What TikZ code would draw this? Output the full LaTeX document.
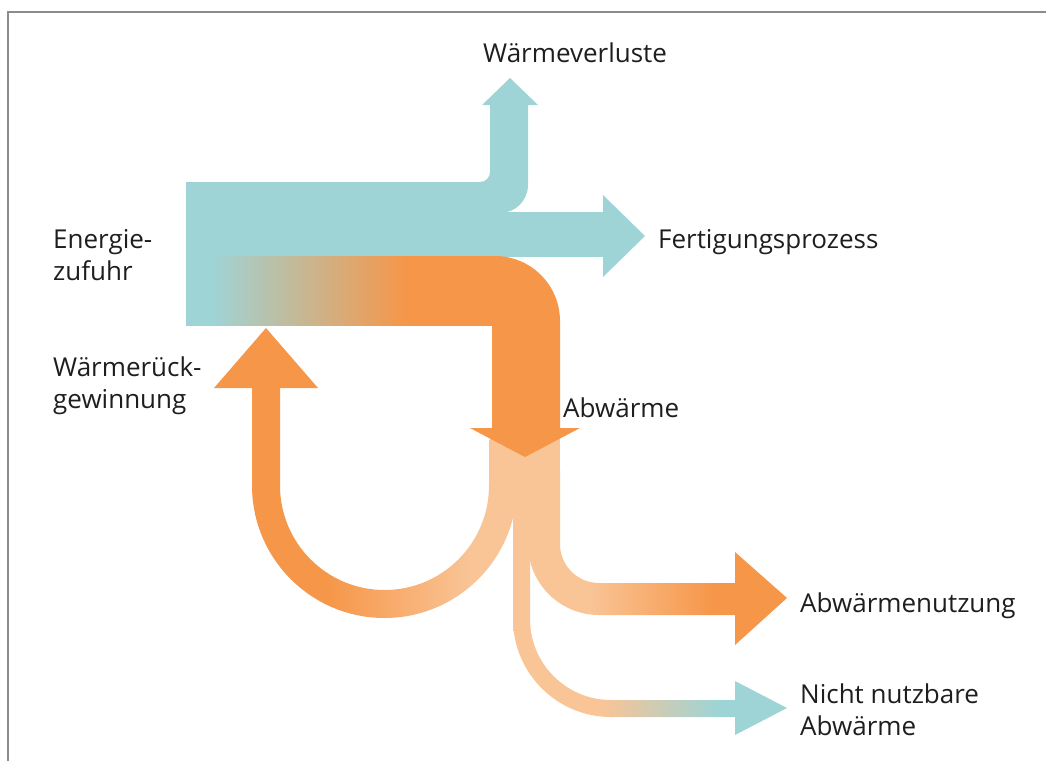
\documentclass[tikz,border=0pt]{standalone}
\usepackage{fontspec}
\setmainfont{Open Sans}
\usepackage{tikz}

\definecolor{flowteal}{RGB}{158,212,214}
\definecolor{floworange}{RGB}{246,150,72}
\definecolor{flowpeach}{RGB}{249,196,150}
\definecolor{labelgray}{RGB}{30,30,30}

% colour runs of the flows (25bp..75bp covers the shape)
\pgfdeclarehorizontalshading{heatshade}{100bp}{color(0bp)=(flowteal); color(29bp)=(flowteal); color(61bp)=(floworange); color(100bp)=(floworange)}
\pgfdeclarehorizontalshading{recovershade}{100bp}{color(0bp)=(floworange); color(39bp)=(floworange); color(66bp)=(flowpeach); color(100bp)=(flowpeach)}
\pgfdeclarehorizontalshading{reuseshade}{100bp}{color(0bp)=(flowpeach); color(40bp)=(flowpeach); color(70bp)=(floworange); color(100bp)=(floworange)}
\pgfdeclarehorizontalshading{unusedshade}{100bp}{color(0bp)=(flowpeach); color(45bp)=(flowpeach); color(71bp)=(flowteal); color(100bp)=(flowteal)}

\begin{document}
\begin{tikzpicture}[x=1pt,y=-1pt,
    flowlabel/.style={font=\fontsize{26}{32}\selectfont, text=labelgray, anchor=base west, align=left, inner sep=0pt}]
  \useasboundingbox (0,0) rectangle (1046,761);
  % frame
  \draw[black!45, line width=1.2pt] (8,761) -- (8,12) -- (1046,12);
  % Abwaerme below the arrow
  \fill[flowpeach] (490,428) rectangle (560,505);
  % Waermerueckgewinnung
  \shade[shading=recovershade] (252,388) -- (252,485.5) arc[start angle=180,end angle=0,radius=132.5]
    -- (517,440) -- (489,440) -- (489,485.5) arc[start angle=0,end angle=180,radius=104.5] -- (280,388) -- cycle;
  \fill[floworange] (214,388) -- (266,328) -- (318,388) -- cycle;
  % Abwaermenutzung
  \shade[shading=reuseshade] (528,470) -- (528,544) arc[start angle=180,end angle=90,radius=71] -- (735,615)
    -- (735,583) -- (599,583) arc[start angle=90,end angle=180,radius=39] -- (560,470) -- cycle;
  \fill[floworange] (735,552) -- (787,598) -- (735,645) -- cycle;
  % Nicht nutzbare Abwaerme
  \shade[shading=unusedshade] (513,500) -- (513,619) arc[start angle=180,end angle=90,radius=98] -- (735,717)
    -- (735,700) -- (611,700) arc[start angle=90,end angle=180,radius=81] -- (530,619) -- (530,500) -- cycle;
  \fill[flowteal] (735,681) -- (787,708) -- (735,735) -- cycle;
  % Energiezufuhr to Waermeverluste
  \fill[flowteal] (186,182) -- (480,182) arc[start angle=90,end angle=0,radius=10] -- (490,105) -- (482,105)
    -- (510,78) -- (538,105) -- (528,105) -- (528,185) arc[start angle=0,end angle=90,radius=28] -- (186,213) -- cycle;
  % Energiezufuhr to Fertigungsprozess
  \fill[flowteal] (186,212) rectangle (604,257);
  \fill[flowteal] (603,195) -- (645,236) -- (603,277) -- cycle;
  % Energiezufuhr to Abwaerme
  \shade[shading=heatshade] (186,256) rectangle (492,325);
  \fill[floworange] (420,256) -- (495,256) arc[start angle=-90,end angle=0,radius=65] -- (560,428)
    -- (492,428) -- (492,325) -- (420,325) -- cycle;
  \fill[floworange] (470,428) -- (525,457) -- (580,428) -- cycle;
  % labels
  \node[flowlabel] (lossLabel) at (483,62) {Wärmeverluste};
  \node[flowlabel] (prodLabel) at (658,248) {Fertigungsprozess};
  \node[flowlabel] (inputLabel) at (53,280) {Energie-\\zufuhr};
  \node[flowlabel] (recoveryLabel) at (53,408) {Wärmerück-\\gewinnung};
  \node[flowlabel] (wasteLabel) at (563,417) {Abwärme};
  \node[flowlabel] (reuseLabel) at (800,612) {Abwärmenutzung};
  \node[flowlabel] (unusedLabel) at (800,735) {Nicht nutzbare\\Abwärme};
\end{tikzpicture}
\end{document}
